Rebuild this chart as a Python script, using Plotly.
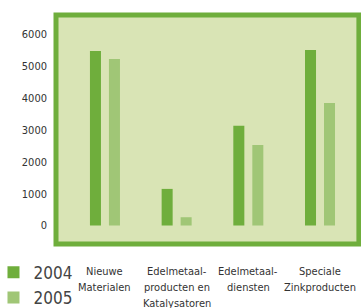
import plotly.graph_objects as go

categories = ["Nieuwe Materialen", "Edelmetaalproducten en Katalysatoren",
              "Edelmetaaldiensten", "Speciale Zinkproducten"]
category_lines = [["Nieuwe", "Materialen"],
                  ["Edelmetaal-", "producten en", "Katalysatoren"],
                  ["Edelmetaal-", "diensten"],
                  ["Speciale", "Zinkproducten"]]
values_2004 = [5480, 1150, 3130, 5510]
values_2005 = [5230, 260, 2530, 3850]
tick_vals = [0, 1000, 2000, 3000, 4000, 5000, 6000]

DARK = "#6fae3c"
LIGHT = "#a0c676"
FILL = "#d9e4b5"
FONT = "DejaVu Sans Condensed, sans-serif"

fig = go.Figure()
fig.add_trace(go.Bar(name="2004", x=categories, y=values_2004, marker_color=DARK, marker_line_width=0))
fig.add_trace(go.Bar(name="2005", x=categories, y=values_2005, marker_color=LIGHT, marker_line_width=0))

annotations = []
for cat, lines in zip(categories, category_lines):
    for j, line in enumerate(lines):
        annotations.append(dict(x=cat, xref="x", y=0, yref="paper", text=line,
                                showarrow=False, xanchor="center", yanchor="middle",
                                yshift=-(27 + 16 * j),
                                font=dict(size=11, color="#333333", family=FONT)))

fig.update_layout(
    width=361, height=308,
    margin=dict(l=56, r=3, t=15, b=64, autoexpand=False),
    paper_bgcolor="white",
    plot_bgcolor=FILL,
    barmode="group",
    bargap=0.47,
    bargroupgap=0.42,
    font=dict(family=FONT, color="#333333", size=11),
    showlegend=True,
    legend=dict(x=-0.207, y=-0.047, xanchor="left", yanchor="top",
                font=dict(size=17, color="#444444"), bgcolor="rgba(0,0,0,0)",
                itemwidth=30, tracegroupgap=0),
    shapes=[dict(type="rect", xref="paper", yref="paper", x0=0, x1=1.003, y0=0, y1=1,
                 line=dict(color=DARK, width=5), fillcolor="rgba(0,0,0,0)", layer="below")],
    annotations=annotations,
)
fig.update_xaxes(range=[-0.683, 3.53], showgrid=False, showline=False, zeroline=False,
                 showticklabels=False, automargin=False, ticks="")
fig.update_yaxes(range=[-581, 6613], tickvals=tick_vals, showgrid=False, showline=False,
                 automargin=False,
                 zeroline=False, tickfont=dict(size=11, color="#333333"), ticklabelstandoff=8, ticks="")

fig.write_html("out.html", config={"displayModeBar": False},
               post_script="document.body.style.margin='0';")
